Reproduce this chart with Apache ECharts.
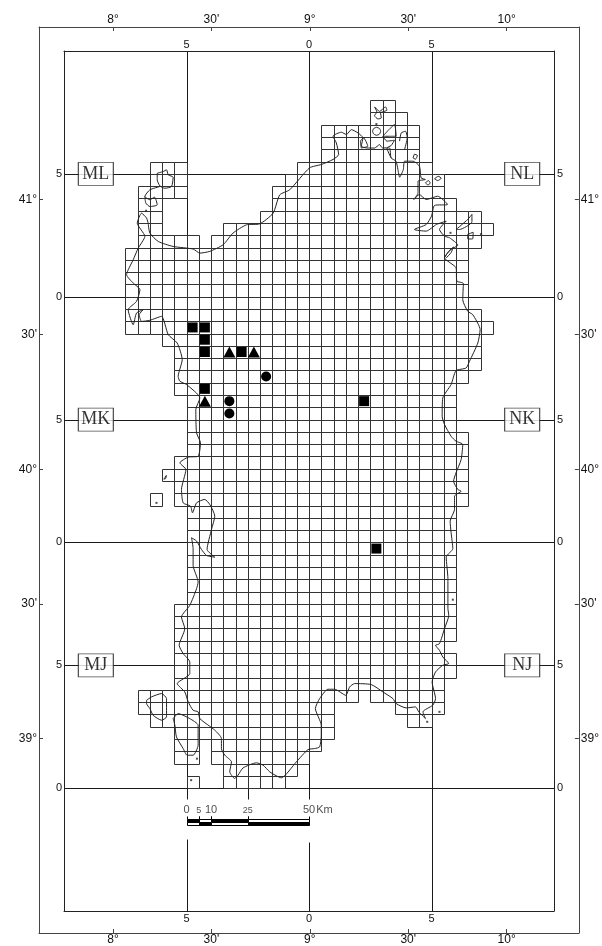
<!DOCTYPE html>
<html><head><meta charset="utf-8">
<style>html,body{margin:0;padding:0;background:#fff}#c{width:602px;height:946px}</style>
<script src="https://cdn.jsdelivr.net/npm/echarts@6/dist/echarts.min.js"></script>
</head><body><div id="c"></div>
<script>
// grid rows: [row, startColumn, endColumn]; rows count down from the 5 line, one cell = 5 km
const gridRows = [
[-6,15,17],[-5,15,18],[-4,11,19],[-3,11,19],[-2,11,19],
[-1,-3,0],[-1,9,20],[0,-3,0],[0,8,21],[1,-4,0],[1,7,21],[2,-4,-2],[2,7,22],[3,-4,-2],[3,6,24],
[4,-4,-2],[4,3,25],[5,-4,1],[5,2,24],[6,-5,23],[7,-5,23],[8,-5,23],[9,-5,23],[10,-5,23],
[11,-5,24],[12,-5,25],[13,-2,24],[14,-1,24],[15,-1,24],[16,-1,23],[17,-1,22],[18,0,22],[19,0,22],
[20,0,22],[21,0,23],[22,0,23],[23,-1,23],[24,-2,23],[25,-1,23],[26,-3,-2],[26,-1,23],
[27,0,22],[28,0,22],[29,0,22],[30,0,22],[31,0,22],[32,0,22],[33,0,22],[34,0,22],[35,-1,22],
[36,-1,22],[37,-1,22],[38,-1,21],[39,-1,22],[40,-1,22],[41,-1,21],[42,-4,14],[42,15,21],
[43,-4,12],[43,17,21],[44,-3,12],[44,18,20],[45,-1,12],[46,-1,1],[46,2,11],[47,-1,1],[47,2,10],
[48,3,9],[49,0,1],[49,3,8]
];
const squareCells = [[0,12],[1,12],[1,13],[1,14],[4,14],[1,17],[14,18],[15,30]];
const triangleCells = [[3,14],[5,14],[1,18]];
const circleCells = [[6,16],[3,18],[3,19]];

const mainCoast = [
[-3.13,4.01],[-2.99,4.82],[-2.31,5.5],[-1.09,5.91],[.54,6.12],[1.09,6.45],[1.9,6.31],[2.99,5.77],[3.8,4.82],[4.89,4.15],[5.98,4.07],[7.07,3.2],[7.61,1.71],[8.42,1.3],[10.05,-.49],[11,-.76],[11.96,-1.17],[12.42,-1.57],[12.23,-2.52],[11.96,-3.06],[12.64,-3.39],[13.05,-3.2],[13.46,-3.6],[14,-3.33],[14.4,-2.93],[14.27,-2.25],[14.7,-2.11],[15.35,-2.1],[15.76,-2.38],[16,-2.11],[16.57,-2.11],[16.7,-1.3],[17.1,-1.03],[17.26,-.35],[17.4,.27],[17.7,-.35],[17.8,-1.03],[18.5,-1.03],[19.02,-.62],[19.15,.33],[19.5,.46],[18.9,.6],[18.9,1.54],[18.56,2.09],[19,1.68],[19.57,2.09],[20.5,1.82],[21.3,2.49],[20.25,2.57],[20,3.44],[19.57,4.12],[18.6,4.53],[19.57,4.66],[20.4,4.12],[21.2,3.85],[20.65,4.53],[21.06,5.07],[21.47,5.2],[22.15,5.8],[21.6,6.15],[21.06,6.83],[22,7.64],[22.07,8.73],[22.6,8.92],[22.55,10.24],[22.96,11.19],[23.37,11.46],[23.97,12.68],[23.78,13.77],[23.1,15.26],[22.83,15.8],[22,16.02],[21.6,17.15],[20.92,18.24],[20.87,19.73],[21.06,20.4],[21.6,21.36],[22,21.76],[22.55,22.03],[22.42,23.25],[22,24.34],[21.8,25.01],[22.15,25.69],[22.42,25.83],[21.88,26.23],[21.88,27.32],[21.52,28.27],[21.6,29.2],[21.74,30.51],[21.2,31.19],[21.34,32.95],[21.34,35.39],[21.41,35.93],[21.06,37.02],[20.65,38.24],[20.33,38.37],[20.65,38.78],[20.92,39.32],[21.4,39.86],[20.92,40],[20.33,40.54],[20.05,41.36],[20.33,42.71],[20.1,43.25],[19.3,43.79],[19.51,44.34],[18.96,43.79],[18.7,43.39],[17.93,43.47],[17.12,43.12],[16.85,42.71],[16.03,42.17],[15.08,41.57],[13.72,41.49],[13.32,41.76],[13,42.44],[12.09,41.95],[11.55,41.95],[10.87,42.71],[10.52,43.52],[11,44.88],[11,45.69],[10.87,46.64],[10.46,46.78],[9.92,46.86],[8.97,47.86],[7.74,49.16],[7.34,49],[6.79,48.67],[6.25,48.13],[5.71,47.94],[4.62,48.35],[4.21,48.94],[3.94,49.21],[3.53,48.67],[3.67,47.86],[3.13,47.32],[2.85,46.78],[2.85,45.96],[2.31,45.28],[1.09,44.34],[.95,43.79],[.54,43.66],[.14,42.98],[-.14,42.17],[-.76,41.49],[.27,40.68],[.27,39.73],[-.27,39.05],[-.6,38.37],[-.14,37.02],[-.41,36.07],[.27,35.12],[.82,33.77],[.95,33.22],[.54,31.87],[.54,30.51],[.41,29.62],[.82,29.89],[1.22,30.57],[1.63,31.06],[2.31,31.2],[1.68,30.57],[2.04,28.94],[2.31,27.86],[1.9,26.91],[1.49,26.5],[.82,26.78],[.49,27.59],[.33,27.05],[-.27,26.78],[-.41,25.69],[-.05,24.07],[-.54,23.52],[.14,23.06],[.95,22.98],[1.14,21.9],[.82,21.08],[.76,19.19],[1.09,18.24],[0,17.15],[-.54,16.88],[-.68,16.48],[-.35,15.12],[-.76,13.77],[-1.49,13.09],[-2.04,11.6],[-2.99,11.92],[-3.67,12.01],[-3.86,11.46],[-3.53,11.06],[-4.08,11.33],[-4.35,12.28],[-4.76,11.06],[-4.08,10.38],[-3.8,9.43],[-4.35,8.89],[-4.89,8.21],[-4.35,6.99],[-3.94,6.04],[-3.4,5.09],[-4.02,4.01],[-3.67,3.2],[-3.26,3.6],[-3.13,4.01]
];
const asinara = [[-2.39,-.05],[-1.9,-.19],[-1.63,-.33],[-1.49,.08],[-1.09,.27],[-1.22,1.03],[-1.77,1.17],[-2.17,.98],[-2.39,.49],[-2.39,-.05]];
const asinaraSouth = [[-2.17,1.03],[-2.99,1.3],[-3.4,1.84],[-3,2.1],[-2.6,1.9],[-2.39,2.52],[-2.99,2.66],[-3.32,2.38],[-3.4,1.84]];
const maddalena = [[15.35,-5.45],[15.76,-5.09],[16.25,-5.45],[16.36,-5.18],[15.84,-4.96],[15.9,-4.55],[15.63,-4.47],[15.35,-4.74],[15.54,-5.04],[15.35,-5.45]];
const ringIsle = [[15.52,-3.79],[15.75,-3.7],[15.85,-3.47],[15.75,-3.24],[15.52,-3.14],[15.29,-3.24],[15.19,-3.47],[15.29,-3.7],[15.52,-3.79]];
const northEastIsle = [[16.03,-3.06],[16.52,-3.6],[16.98,-4.01],[17.12,-3.06],[16.6,-3.06],[16.03,-3.06],[16.36,-2.66],[16.98,-2.74],[16.7,-2.3],[16.36,-2.11],[16.7,-1.3]];
const capeIsle = [[17.39,-2.66],[17.53,-3.33],[17.88,-3.47],[18.02,-2.93],[17.8,-1.98]];
const loopIsle = [[14.27,-2.11],[14.2,-2.66],[14.46,-2.93],[14.8,-2.25],[14.27,-2.11]];
const smallIsleA = [[18.6,-1.6],[18.85,-1.5],[18.7,-1.2],[18.5,-1.3],[18.6,-1.6]];
const smallIsleB = [[20.25,.4],[20.55,.2],[20.8,.35],[20.5,.55],[20.25,.4]];
const smallIsleC = [[19.5,.73],[19.75,.55],[19.9,.75],[19.7,.9],[19.5,.73]];
const tavolara = [[22.01,4.53],[22.96,3.71],[23.3,3.3],[23.3,3.9],[22.28,4.53],[22.01,4.53]];
const molara = [[22.96,4.93],[23.4,4.75],[23.35,5.3],[22.96,5.3],[22.96,4.93]];
const eastIslet = [[21.06,6.83],[21.4,6.3],[21.8,5.95],[21.6,6.4],[21.2,6.85]];
const santAntioco = [[-1.09,44.34],[-.68,43.93],[.27,44.34],[.95,44.88],[.95,46.5],[.54,47.32],[.05,47.32],[-.27,46.78],[-.82,45.83],[-.95,44.88],[-1.09,44.34]];
const sanPietro = [[-3.26,42.85],[-2.85,42.57],[-2.04,42.3],[-1.63,42.71],[-1.63,44.2],[-2.04,44.47],[-2.72,44.07],[-2.99,43.52],[-3.26,43.12],[-3.26,42.85]];
const malVentre = [[-1.85,24.85],[-1.65,24.55],[-1.7,24.8],[-1.85,24.85]];
const coastLines = [mainCoast,asinara,asinaraSouth,maddalena,ringIsle,northEastIsle,capeIsle,loopIsle,smallIsleA,smallIsleB,smallIsleC,tavolara,molara,eastIslet,santAntioco,sanPietro,malVentre];
const isletDots = [[.38,49.35],[20.65,43.79],[19.65,44.6],[21.74,34.66],[-2.45,26.78],[.85,47.6],[-3.3,3],[24.05,4.9],[21.55,4.8],[15.5,-4.05]];

const zoneLabels = ['ML','NL','MK','NK','MJ','NJ'];
const zoneEastings = [-74,274,-74,274,-74,274];
const zoneNorthings = [500,500,300,300,100,100];
const innerXTicks = [0,100,200];
const innerXLabels = ['5','0','5'];
const innerYTicks = [500,400,300,200,100,0];
const innerYLabels = ['5','0','5','0','5','0'];
const lonTicks = [8,8.5,9,9.5,10];
const lonLabels = ["8°","30'","9°","30'","10°"];
const latTicks = [41,40.5,40,39.5,39];
const latLabels = ["41°","30'","40°","30'","39°"];
const scaleKm = [0,5,10,25,50];
const scaleLabels = ['0','5','10','25','50'];
const scaleLabelSizes = [11,9,11,9,11];

// axis units: one grid cell is 10 units (5 km on the scale bar)
const UNITS_PER_KM = 2;
const toAxis = p => [p[0]*10, 500-p[1]*10];
const gridCells = [];
gridRows.forEach(([r,a,b]) => { for (let c=a;c<b;c++) gridCells.push([c*10,500-r*10]); });
const centre = p => [p[0]*10+5, 500-p[1]*10-5];
const LINE='#333', DARK='#1a1a1a';
const crisp = v => Math.round(v)+.5;

function renderCell(params, api){
  const a=api.coord([api.value(0),api.value(1)]), b=api.coord([api.value(0)+10,api.value(1)-10]);
  const x=crisp(a[0]),y=crisp(a[1]),x2=crisp(b[0]),y2=crisp(b[1]);
  return {type:'rect',shape:{x,y,width:x2-x,height:y2-y},style:{fill:null,stroke:LINE,lineWidth:1}};
}
const majorLines = [
 [-100,500,300,500],[-100,400,300,400],[-100,300,300,300],[-100,200,300,200],[-100,100,300,100],[-100,0,300,0],
 [0,600,0,-9],[0,-41,0,-100],[100,600,100,-9],[100,-44,100,-100],[200,600,200,-100],[50,0,50,-9]
];
function renderLine(params, api){
  const a=api.coord([api.value(0),api.value(1)]), b=api.coord([api.value(2),api.value(3)]);
  return {type:'line',shape:{x1:crisp(a[0]),y1:crisp(a[1]),x2:crisp(b[0]),y2:crisp(b[1])},style:{stroke:DARK,lineWidth:1,fill:null}};
}
// scale bar: [from, to, black on top (1) or below (0)]
const scaleSegments = scaleKm.slice(0,-1).map((v,i)=>[v*UNITS_PER_KM,scaleKm[i+1]*UNITS_PER_KM,i%2===0?1:0]);
function renderScale(params, api){
  const x1=crisp(api.coord([api.value(0),-25])[0]), x2=crisp(api.coord([api.value(1),-25])[0]);
  const t=Math.round(api.coord([0,-25])[1])+.5, h=6;
  const top=api.value(2)===1;
  return {type:'group',children:[
    {type:'rect',shape:{x:x1,y:t,width:x2-x1,height:h/2},style:{fill:top?'#000':'#fff',stroke:'#000',lineWidth:1}},
    {type:'rect',shape:{x:x1,y:t+h/2,width:x2-x1,height:h/2},style:{fill:top?'#fff':'#000',stroke:'#000',lineWidth:1}},
    {type:'line',shape:{x1:x1,y1:t-3,x2:x1,y2:t},style:{stroke:'#000',lineWidth:1}},
    {type:'line',shape:{x1:x2,y1:t-3,x2:x2,y2:t},style:{stroke:'#000',lineWidth:1}}
  ]};
}
const mapOn=(list,labels)=>v=>{const i=list.indexOf(v);return i<0?'':labels[i];};
const inner={axisLine:{show:true,onZero:false,lineStyle:{color:'#222',width:1}},axisTick:{show:false},splitLine:{show:false}};
const outer={axisLine:{show:true,onZero:false,lineStyle:{color:'#444',width:1}},splitLine:{show:false}};
const FONT='"Liberation Sans",Arial,sans-serif';
const xIn=(pos,m)=>({...inner,gridIndex:0,type:'value',position:pos,min:-100,max:300,
  axisLabel:{customValues:innerXTicks,formatter:mapOn(innerXTicks,innerXLabels),fontFamily:FONT,fontSize:11,color:'#111',margin:m}});
const yIn=(pos,m)=>({...inner,gridIndex:0,type:'value',position:pos,min:-100,max:600,
  axisLabel:{customValues:innerYTicks,formatter:mapOn(innerYTicks,innerYLabels),fontFamily:FONT,fontSize:11,color:'#111',margin:m}});
const xOut=(pos,m)=>({...outer,gridIndex:1,type:'value',position:pos,min:7.624,max:10.367,
  axisTick:{show:true,inside:true,length:4,customValues:lonTicks,lineStyle:{color:'#444'}},
  axisLabel:{customValues:lonTicks,formatter:mapOn(lonTicks,lonLabels),fontFamily:FONT,fontSize:12,color:'#111',margin:m}});
const yOut=(pos,m)=>({...outer,gridIndex:1,type:'value',position:pos,min:38.279,max:41.641,
  axisTick:{show:true,inside:true,length:4,customValues:latTicks,lineStyle:{color:'#444'}},
  axisLabel:{customValues:latTicks,formatter:mapOn(latTicks,latLabels),fontFamily:FONT,fontSize:12,color:'#111',margin:m}});

const chart=echarts.init(document.getElementById('c'),null,{renderer:'canvas'});
const cg={xAxisIndex:0,yAxisIndex:0,silent:true,animation:false};
const marker=(name,sym,size,cells)=>({...cg,type:'scatter',name,symbol:sym,symbolSize:size,z:8,data:cells.map(centre),itemStyle:{color:'#000',opacity:1}});
chart.setOption({
 animation:false,backgroundColor:'#fff',
 grid:[{left:64,top:51,width:490,height:860},{left:39,top:27,width:540,height:908}],
 xAxis:[xIn('top',1),xIn('bottom',2),xOut('top',1),xOut('bottom',1)],
 yAxis:[yIn('left',2),yIn('right',3),yOut('left',2),yOut('right',2)],
 series:[
  {...cg,type:'custom',name:'major',z:2,renderItem:renderLine,data:majorLines,clip:false},
  {...cg,type:'custom',name:'cells',z:3,renderItem:renderCell,data:gridCells,clip:false},
  ...coastLines.map((l,i)=>({...cg,type:'line',name:'coast'+i,z:5,showSymbol:false,symbol:'none',smooth:.2,
     lineStyle:{color:'#222',width:1},data:l.map(toAxis)})),
  {...cg,type:'scatter',name:'islets',symbol:'rect',symbolSize:2,z:5,data:isletDots.map(toAxis),itemStyle:{color:'#222'}},
  marker('squares','rect',10,squareCells),
  marker('triangles','triangle',[12,11],triangleCells),
  marker('circles','circle',10,circleCells),
  {...cg,type:'scatter',name:'zones',symbol:'rect',symbolSize:[35,23],z:9,
    data:zoneLabels.map((n,i)=>({name:n,value:[zoneEastings[i],zoneNorthings[i]]})),
    itemStyle:{color:'#fff',borderColor:'#222',borderWidth:1},
    label:{show:true,position:'inside',formatter:'{b}',fontFamily:'"Liberation Serif","Times New Roman",serif',fontSize:18,color:'#000',fontWeight:'normal'}},
  {...cg,type:'custom',name:'scale',z:6,renderItem:renderScale,data:scaleSegments,clip:false},
  {...cg,type:'scatter',name:'scaleText',symbolSize:0,z:7,
    data:scaleKm.map((v,i)=>({name:scaleLabels[i],value:[v*UNITS_PER_KM,-18],label:{fontSize:scaleLabelSizes[i]}})).concat([{name:'Km',value:[112.6,-18]}]),
    label:{show:true,position:'inside',formatter:'{b}',fontFamily:FONT,fontSize:11,color:'#222'}}
 ]
});
</script></body></html>
